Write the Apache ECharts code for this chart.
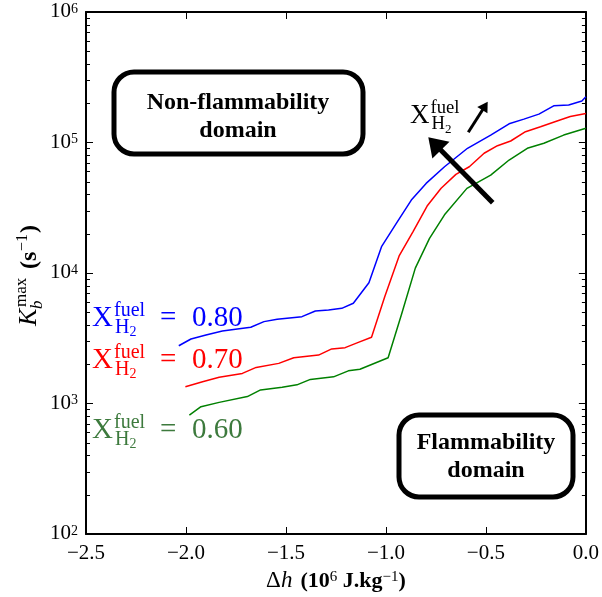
<!DOCTYPE html>
<html><head><meta charset="utf-8">
<script src="https://cdn.jsdelivr.net/npm/echarts@6/dist/echarts.min.js"></script>
<style>html,body{margin:0;padding:0;background:#fff}#c{width:602px;height:597px}</style>
</head><body><div id="c"></div>
<script>
// ---- data ----
const blueX = [-2.036, -1.975, -1.900, -1.818, -1.743, -1.676, -1.610, -1.544, -1.420, -1.353, -1.287, -1.221, -1.163, -1.085, -1.022, -0.948, -0.873, -0.799, -0.707, -0.592, -0.476, -0.384, -0.310, -0.235, -0.161, -0.086, -0.020, 0.0];
const blueY = [2770, 3120, 3350, 3590, 3720, 3840, 4240, 4420, 4630, 5120, 5200, 5360, 5860, 8430, 15900, 24000, 36200, 48600, 65200, 90300, 114000, 139000, 151000, 165000, 191000, 194000, 208000, 224000];
const redX = [-2.003, -1.917, -1.834, -1.718, -1.649, -1.536, -1.461, -1.337, -1.271, -1.204, -1.138, -1.072, -1.006, -0.934, -0.865, -0.794, -0.724, -0.650, -0.583, -0.509, -0.442, -0.376, -0.302, -0.227, -0.144, -0.078, 0.0];
const redY = [1345, 1470, 1590, 1700, 1890, 2030, 2240, 2350, 2620, 2680, 2940, 3220, 6580, 13500, 20700, 32600, 44600, 57000, 65200, 82700, 94500, 102700, 121000, 132000, 146000, 158000, 167000];
const greenX = [-1.983, -1.925, -1.834, -1.693, -1.627, -1.519, -1.445, -1.378, -1.262, -1.188, -1.130, -0.989, -0.923, -0.853, -0.782, -0.707, -0.595, -0.476, -0.384, -0.293, -0.210, -0.111, 0.0];
const greenY = [816, 945, 1020, 1130, 1270, 1330, 1390, 1530, 1600, 1780, 1830, 2240, 4770, 10900, 18400, 27900, 44500, 56300, 73400, 90300, 98600, 114000, 128500];
const seriesNames = ['0.80', '0.70', '0.60'];
const xTickValues = [-2.5, -2.0, -1.5, -1.0, -0.5, 0.0];
const yMinorMantissas = [2, 3, 4, 5, 6, 7, 8, 9];
const yDecades = [2, 3, 4, 5];
const boxTexts = ['Non-flammability\ndomain', 'Flammability\ndomain'];

// ---- chart ----
const SERIF = '"Liberation Serif", "Times New Roman", serif';
const zip = (xs, ys) => xs.map((x, i) => [x, ys[i]]);
const chart = echarts.init(document.getElementById('c'), null, {renderer: 'canvas'});

const xFmt = v => (v < 0 ? '\u2212' : '') + Math.abs(v).toFixed(1);
const yFmt = v => '{b|10}{s|' + Math.round(Math.log10(v)) + '}';
const axisLine = {show: true, onZero: false, lineStyle: {color: '#000', width: 2}};
const tick = {show: true, inside: true, length: 7, lineStyle: {color: '#000', width: 1}};

chart.setOption({
  animation: false,
  backgroundColor: '#fff',
  grid: {left: 86, right: 13, top: 12, bottom: 63},
  xAxis: [
    {type: 'value', min: -2.5, max: 0, interval: 0.5, position: 'bottom',
     axisLine, axisTick: tick, splitLine: {show: false},
     axisLabel: {formatter: xFmt, margin: 9, color: '#000', fontFamily: SERIF, fontSize: 21}},
    {type: 'value', min: -2.5, max: 0, interval: 0.5, position: 'top',
     axisLine, axisTick: tick, splitLine: {show: false}, axisLabel: {show: false}}
  ],
  yAxis: [
    {type: 'log', logBase: 10, min: 100, max: 1e6, position: 'left',
     axisLine, axisTick: tick, splitLine: {show: false}, minorTick: {show: false},
     axisLabel: {formatter: yFmt, margin: 8, color: '#000',
       rich: {b: {fontFamily: SERIF, fontSize: 21, lineHeight: 20, verticalAlign: 'bottom', color: '#000'},
              s: {fontFamily: SERIF, fontSize: 14, lineHeight: 14, verticalAlign: 'top', color: '#000'}}}},
    {type: 'log', logBase: 10, min: 100, max: 1e6, position: 'right',
     axisLine, axisTick: tick, splitLine: {show: false}, axisLabel: {show: false}}
  ],
  series: [
    {name: seriesNames[0], type: 'line', data: zip(blueX, blueY), showSymbol: false, lineStyle: {color: '#0000ff', width: 1.5}},
    {name: seriesNames[1], type: 'line', data: zip(redX, redY), showSymbol: false, lineStyle: {color: '#ff0000', width: 1.5}},
    {name: seriesNames[2], type: 'line', data: zip(greenX, greenY), showSymbol: false, lineStyle: {color: '#008000', width: 1.5}}
  ]
});

// ---- annotations ----
const MID = 0.3375;
function t(x, base, s, fs, color, style) {
  return {type: 'text', z: 100, style: {x: x, y: base - MID * fs, text: s,
    font: (style || '') + ' ' + fs + 'px ' + SERIF, fill: color || '#000',
    align: 'left', verticalAlign: 'middle', textAlign: 'left', textVerticalAlign: 'middle'}};
}
function fuelX(L, B, fs, color) {
  const k = fs / 29;
  return [
    t(L, B, 'X', fs, color),
    t(L + 22 * k, B - 11 * k, 'fuel', 20 * k, color),
    t(L + 23 * k, B + 6 * k, 'H', 20 * k, color),
    t(L + 37.5 * k, B + 9.5 * k, '2', 14 * k, color)
  ];
}
function seriesLabel(L, B, color, val) {
  return fuelX(L, B, 29, color).concat([t(L + 68, B, '=', 29, color), t(L + 100, B, val, 29, color)]);
}
function arrow(x1, y1, x2, y2, lw, hl, hw) {
  const dx = x2 - x1, dy = y2 - y1, L = Math.hypot(dx, dy), ux = dx / L, uy = dy / L, nx = -uy, ny = ux;
  const bx = x2 - ux * hl, by = y2 - uy * hl;
  return [
    {type: 'line', z: 100, shape: {x1: x1, y1: y1, x2: bx + ux * 2, y2: by + uy * 2}, style: {stroke: '#000', lineWidth: lw}},
    {type: 'polygon', z: 100, shape: {points: [[x2, y2], [bx + nx * hw, by + ny * hw], [bx - nx * hw, by - ny * hw]]}, style: {fill: '#000'}}
  ];
}
function box(x, y, w, h, txt, cx, cy) {
  return [
    {type: 'rect', z: 90, shape: {x: x, y: y, width: w, height: h, r: 20}, style: {fill: '#fff', stroke: '#000', lineWidth: 5}},
    {type: 'text', z: 100, style: {x: cx, y: cy, text: txt, font: 'bold 24px ' + SERIF, fill: '#000', lineHeight: 28,
      align: 'center', verticalAlign: 'middle', textAlign: 'center', textVerticalAlign: 'middle'}}
  ];
}

const x0 = chart.convertToPixel({xAxisIndex: 0}, -2.5);
const x1 = chart.convertToPixel({xAxisIndex: 0}, 0);
const g = [];
// minor log ticks on left and right
yDecades.forEach(d => yMinorMantissas.forEach(m => {
  const py = Math.round(chart.convertToPixel({yAxisIndex: 0}, m * Math.pow(10, d))) + 0.5;
  g.push({type: 'line', z: 50, shape: {x1: x0, y1: py, x2: x0 + 4, y2: py}, style: {stroke: '#000', lineWidth: 1}});
  g.push({type: 'line', z: 50, shape: {x1: x1, y1: py, x2: x1 - 4, y2: py}, style: {stroke: '#000', lineWidth: 1}});
}));

g.push(...box(114, 72, 249, 82, boxTexts[0], 238, 117));
g.push(...box(399, 415, 174, 82, boxTexts[1], 486, 457));
g.push(...arrow(492.7, 202.7, 428.3, 137.3, 5, 18, 12));
g.push(...arrow(468.3, 132.3, 487.7, 101.7, 3, 10, 6));
g.push(...fuelX(410, 125, 27, '#000'));
g.push(...seriesLabel(92, 328, '#0000ff', seriesNames[0]));
g.push(...seriesLabel(92, 370, '#ff0000', seriesNames[1]));
g.push(...seriesLabel(92, 440, '#3d7a3d', seriesNames[2]));

// x axis title
g.push({type: 'text', z: 100, style: {x: (x0 + x1) / 2, y: 581,
  text: '{d|\u0394}{i|h}{sp| }{b|(10}{s|6}{b| J.kg}{s|\u22121}{b|)}',
  align: 'center', verticalAlign: 'middle', textAlign: 'center', textVerticalAlign: 'middle',
  rich: {d: {fontFamily: SERIF, fontSize: 23, lineHeight: 22, verticalAlign: 'bottom', color: '#000'},
         i: {fontFamily: SERIF, fontStyle: 'italic', fontSize: 23, lineHeight: 22, verticalAlign: 'bottom', color: '#000'},
         sp: {fontFamily: SERIF, fontSize: 22, lineHeight: 22, width: 8, verticalAlign: 'bottom'},
         b: {fontFamily: SERIF, fontWeight: 'bold', fontSize: 22, lineHeight: 22, verticalAlign: 'bottom', color: '#000'},
         s: {fontFamily: SERIF, fontSize: 15, lineHeight: 15, verticalAlign: 'top', color: '#000'}}}});

// y axis title (rotated group)
g.push({type: 'group', x: 38, y: 326, rotation: Math.PI / 2, z: 100, children: [
  t(0, 0, 'K', 26, '#000', 'italic'),
  t(19, -11, 'max', 17, '#000'),
  t(17, 5, 'b', 17, '#000', 'italic'),
  t(57, 0, '(s', 24, '#000', 'bold'),
  t(75, -10, '\u22121', 16, '#000'),
  t(93, 0, ')', 24, '#000', 'bold')
]});

chart.setOption({graphic: g});
</script></body></html>
